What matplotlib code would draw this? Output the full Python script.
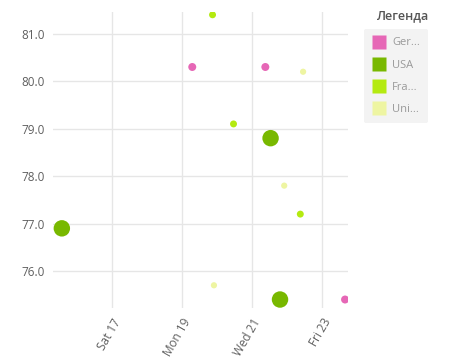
import matplotlib
matplotlib.use("Agg")
import matplotlib.pyplot as plt
import matplotlib.dates as mdates
from matplotlib.lines import Line2D
import datetime as dt

plt.rcParams['font.family'] = ['Open Sans', 'DejaVu Sans']

# Данные (дни марта 2018, значение, размер пузырька)
series = ["Ger...", "USA", "Fra...", "Uni..."]
colors = ["#e667b6", "#78b800", "#b4ea10", "#eef5a2"]

days = {
    "Ger...": [19.29, 21.38, 23.66],
    "USA":    [15.56, 21.53, 21.80],
    "Fra...": [19.87, 20.47, 22.38],
    "Uni...": [22.46, 21.92, 19.91],
}
values = {
    "Ger...": [80.3, 80.3, 75.4],
    "USA":    [76.9, 78.8, 75.4],
    "Fra...": [81.4, 79.1, 77.2],
    "Uni...": [80.2, 77.8, 75.7],
}
sizes = {
    "Ger...": [33, 33, 33],
    "USA":    [140, 140, 140],
    "Fra...": [25, 25, 25],
    "Uni...": [20, 20, 20],
}

base = dt.datetime(2018, 3, 1)
def to_date(d):
    return base + dt.timedelta(days=d - 1)

fig = plt.figure(figsize=(4.5, 3.62), dpi=100)
ax = fig.add_axes([0.118, 0.149, 0.655, 0.818])

for name, c in zip(series, colors):
    x = [to_date(d) for d in days[name]]
    ax.scatter(x, values[name], s=sizes[name], color=c, edgecolors='none', zorder=3)

ax.set_xlim(to_date(15.31), to_date(23.74))
ax.set_ylim(75.22, 81.46)
ax.set_yticks([76, 77, 78, 79, 80, 81])
ax.yaxis.set_major_formatter(plt.FormatStrFormatter('%.1f'))
ax.xaxis.set_major_locator(mdates.DayLocator(bymonthday=[17, 19, 21, 23]))
ax.xaxis.set_major_formatter(mdates.DateFormatter('%a %d'))

ax.grid(True, color='#e6e6e6', linewidth=1)
ax.set_axisbelow(True)
for s in ax.spines.values():
    s.set_visible(False)
ax.tick_params(length=0, labelsize=8.5, colors='#5f5f5f', pad=6)
plt.setp(ax.get_xticklabels(), rotation=60, ha='right', rotation_mode='anchor')

# Легенда
handles = [Line2D([], [], marker='s', linestyle='none', markersize=10,
                  markerfacecolor=c, markeredgecolor='none') for c in colors]
leg = fig.legend(handles, series, loc='upper left', bbox_to_anchor=(0.796, 0.935),
                 frameon=True, fontsize=8, labelcolor='#999999',
                 handletextpad=0.6, labelspacing=1.0, borderpad=0.75, handlelength=1.2)
leg.get_frame().set_facecolor('#f0f0f0')
leg.get_frame().set_edgecolor('none')
fig.text(0.895, 0.958, "Легенда", ha='center', va='center', fontsize=9,
         fontweight='semibold', color='#555555')

fig.savefig("out.png", dpi=100)
